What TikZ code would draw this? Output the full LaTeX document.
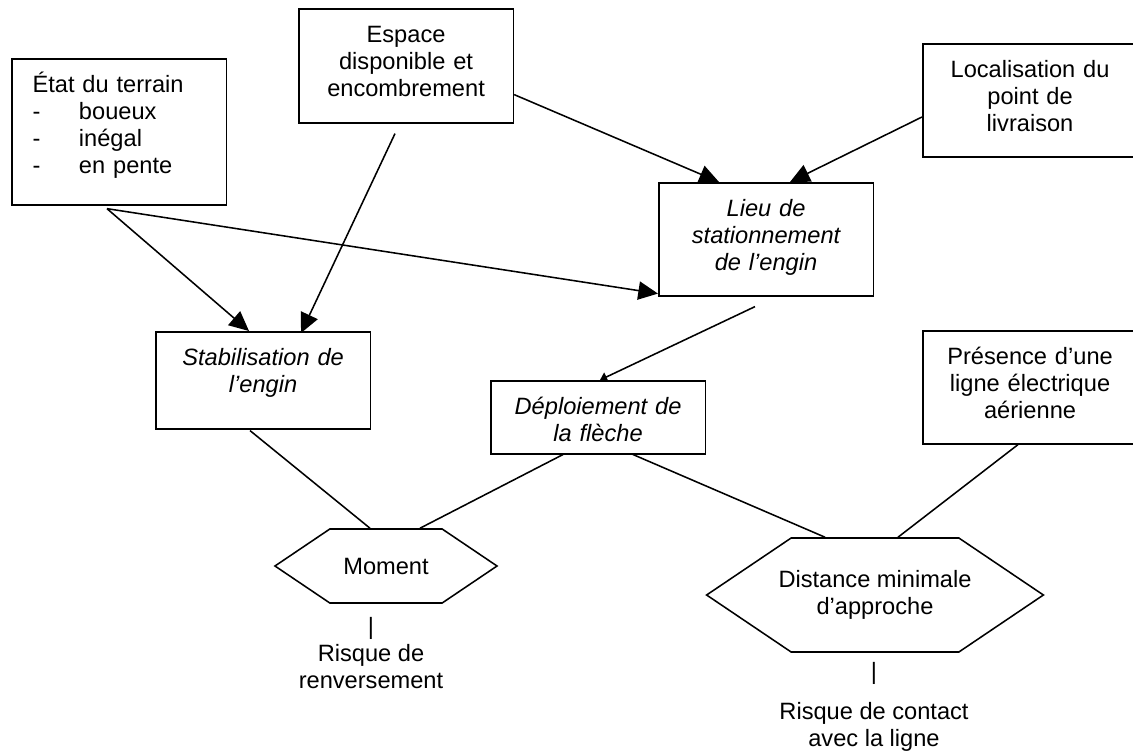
\documentclass[tikz,border=0pt]{standalone}
\usepackage{fontspec}
\setmainfont{Liberation Sans}
\usetikzlibrary{arrows.meta,positioning,calc,shapes.symbols}

\begin{document}
\begin{tikzpicture}[x=0.025cm, y=-0.025cm,
every node/.style={font=\fontsize{16.8}{19.2}\selectfont},
factor/.style={rectangle, draw=black, line width=1.1pt, anchor=north west,
  text width=123pt, align=center, inner xsep=14.8pt, inner ysep=6pt, text height=18pt},
hazard/.style={signal, signal to=east and west, signal pointer angle=68,
  draw=black, line width=1.1pt, align=center},
risk/.style={align=center, inner sep=0pt},
link/.style={line width=1.1pt},
bigarrow/.style={line width=1.1pt, -{Triangle[length=14pt,width=13pt]}},
smallarrow/.style={line width=1.1pt, -{Triangle[length=5pt,width=7pt]}},
]
\useasboundingbox (0,0) rectangle (1133,751);

% facteurs
\node[factor, align=left, text depth=73.9pt] (terrain) at (11,58)
  {État du terrain\\ \makebox[33pt][l]{-}boueux\\ \makebox[33pt][l]{-}inégal\\ \makebox[33pt][l]{-}en pente};
\node[factor, text depth=51.1pt] (espace)       at (298,8)   {Espace\\disponible et\\encombrement};
\node[factor, text depth=50.4pt] (localisation) at (922,43)  {Localisation du\\point de\\livraison};
\node[factor, text depth=50.4pt] (lieu)         at (658,182) {\itshape Lieu de\\stationnement\\de l’engin};
\node[factor, text depth=39pt]   (stabilisation) at (155,331) {\itshape Stabilisation de\\l’engin};
\node[factor, text depth=21.9pt] (deploiement)  at (490,380) {\itshape Déploiement de\\la flèche};
\node[factor, text depth=50.4pt] (presence)     at (922,330) {Présence d’une\\ligne électrique\\aérienne};

% dangers
\node[hazard, minimum width=5.55cm, minimum height=1.85cm] (moment)   at (386,566) {Moment};
\node[hazard, inner xsep=-9pt, minimum width=8.4cm, minimum height=2.85cm] (distance) at (875,595) {Distance minimale\\d’approche};

\node[risk] (renversement) at (371,653) {|\\Risque de\\renversement};
\node[risk] (contact)      at (874,707) {|\\[9pt]Risque de contact\\avec la ligne};

\draw[bigarrow] ($(terrain.south west)+(96,3)$) -- ($(stabilisation.north west)+(94,0)$);
\draw[bigarrow] ($(espace.south west)+(97,10)$) -- ($(stabilisation.north west)+(146,2)$);
\draw[bigarrow] ($(terrain.south west)+(96,3)$) -- ($(lieu.south west)+(0,-3)$);
\draw[bigarrow] ($(espace.south east)+(0,-29)$) -- ($(lieu.north west)+(61,0)$);
\draw[bigarrow] ($(localisation.north west)+(0,74)$) -- ($(lieu.north west)+(132,0)$);
\draw[smallarrow] ($(lieu.south west)+(97,10)$) -- ($(deploiement.north west)+(110,0)$);

\draw[link] ($(stabilisation.south west)+(95,1)$) -- ($(moment.north)+(-16,0)$);
\draw[link] ($(deploiement.south west)+(73,0)$) -- ($(moment.north)+(34,0)$);
\draw[link] ($(deploiement.south west)+(143,0)$) -- ($(distance.north)+(-50,0)$);
\draw[link] ($(presence.south west)+(96,0)$) -- ($(distance.north)+(23,0)$);

\end{tikzpicture}
\end{document}
